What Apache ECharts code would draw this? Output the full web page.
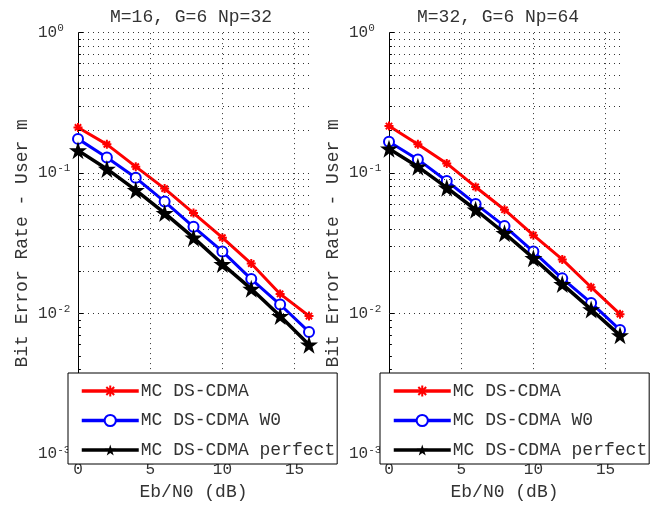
<!DOCTYPE html>
<html><head><meta charset="utf-8">
<script src="https://cdn.jsdelivr.net/npm/echarts@6/dist/echarts.min.js"></script>
<style>html,body{margin:0;padding:0;background:#fff}#c{width:667px;height:506px}</style>
</head><body><div id="c"></div>
<script>
var xs = [0, 2, 4, 6, 8, 10, 12, 14, 16];
var leftRed = [0.211, 0.160, 0.111, 0.0775, 0.0519, 0.0347, 0.0227, 0.0138, 0.0096];
var leftBlue = [0.175, 0.129, 0.0925, 0.0626, 0.0414, 0.0277, 0.0176, 0.0116, 0.0074];
var leftBlack = [0.145, 0.107, 0.0755, 0.0519, 0.0347, 0.0225, 0.0150, 0.0096, 0.0060];
var rightRed = [0.216, 0.160, 0.117, 0.0796, 0.0548, 0.0361, 0.0243, 0.0154, 0.0099];
var rightBlue = [0.167, 0.125, 0.0877, 0.0603, 0.0419, 0.0276, 0.0178, 0.0119, 0.00765];
var rightBlack = [0.149, 0.111, 0.0787, 0.0548, 0.0373, 0.0248, 0.0162, 0.0107, 0.0070];
var seriesNames = ['MC DS-CDMA', 'MC DS-CDMA W0', 'MC DS-CDMA perfect'];
var titles = ['M=16, G=6 Np=32', 'M=32, G=6 Np=64'];
var xTicks = [0, 5, 10, 15];
var yDecades = [0.001, 0.01, 0.1, 1];
var minorMult = [2, 3, 4, 5, 6, 7, 8, 9];
var xLabel = 'Eb/N0 (dB)';
var yLabel = 'Bit Error Rate - User m';

var FONT = 'Liberation Mono';
var TXT = '#333';
var STAR = 'path://M50,0 L61.2,34.5 L97.6,34.5 L68.2,55.9 L79.4,90.5 L50,69.1 L20.6,90.5 L31.8,55.9 L2.4,34.5 L38.8,34.5 Z';
var AST = 'path://M5,0L5,10M0,5L10,5M1.5,1.5L8.5,8.5M1.5,8.5L8.5,1.5';

function pairs(v) { return xs.map(function (x, i) { return [x, v[i]]; }); }

var yGridVals = [];
yDecades.forEach(function (d) { if (d < 1) minorMult.forEach(function (m) { yGridVals.push(d * m); }); });
var yAllGrid = yGridVals.concat(yDecades.slice(1));

function gridSeries(idx) {
  var data = [];
  xTicks.forEach(function (t) { if (t > 0) data.push({ xAxis: t }); });
  yAllGrid.forEach(function (v) { data.push({ yAxis: v }); });
  var ticks = [];
  yGridVals.forEach(function (v) { ticks.push([{ coord: [0, v] }, { coord: [0.2, v] }]); });
  return [{
    type: 'line', xAxisIndex: idx, yAxisIndex: idx, data: [], silent: true, z: 1,
    markLine: {
      silent: true, symbol: ['none', 'none'], label: { show: false }, animation: false,
      lineStyle: { type: [1, 4], color: '#333', width: 1 },
      emphasis: { disabled: true },
      data: data
    }
  }, {
    type: 'line', xAxisIndex: idx, yAxisIndex: idx, data: [], silent: true, z: 1,
    markLine: {
      silent: true, symbol: ['none', 'none'], label: { show: false }, animation: false,
      lineStyle: { type: 'solid', color: '#000', width: 1 },
      emphasis: { disabled: true },
      data: ticks
    }
  }];
}

function dataSeries(idx, red, blue, black) {
  return [
    { name: seriesNames[0], type: 'line', xAxisIndex: idx, yAxisIndex: idx, data: pairs(red), z: 3,
      symbol: AST, symbolSize: 9, lineStyle: { color: '#ff0000', width: 3 },
      itemStyle: { color: '#ff0000', borderColor: '#ff0000', borderWidth: 2 } },
    { name: seriesNames[1], type: 'line', xAxisIndex: idx, yAxisIndex: idx, data: pairs(blue), z: 4,
      symbol: 'emptyCircle', symbolSize: 10, lineStyle: { color: '#0000ff', width: 3 },
      itemStyle: { color: '#0000ff', borderColor: '#0000ff', borderWidth: 2.5 } },
    { name: seriesNames[2], type: 'line', xAxisIndex: idx, yAxisIndex: idx, data: pairs(black), z: 5,
      symbol: STAR, symbolSize: 18, lineStyle: { color: '#000', width: 3.5 },
      itemStyle: { color: '#000' } }
  ];
}

var grids = [
  { left: 78, top: 32.5, width: 231, height: 430 },
  { left: 389, top: 32.5, width: 231, height: 430 }
];

function xAxisCfg(idx) {
  return {
    type: 'value', gridIndex: idx, min: 0, max: 16, interval: 5,
    name: xLabel, nameLocation: 'middle', nameGap: 27,
    nameTextStyle: { fontFamily: FONT, fontSize: 18, color: TXT },
    axisLine: { lineStyle: { color: '#000', width: 1 } },
    axisTick: { inside: true, length: 5, lineStyle: { color: '#000' } },
    minorTick: { show: true, splitNumber: 5, length: 3, lineStyle: { color: '#000' } },
    splitLine: { show: false },
    axisLabel: { fontFamily: FONT, fontSize: 16, color: TXT, margin: 8, showMaxLabel: false,
      formatter: function (v) { return xTicks.indexOf(v) >= 0 ? String(v) : ''; } }
  };
}

function yAxisCfg(idx) {
  return {
    type: 'log', logBase: 10, gridIndex: idx, min: 0.001, max: 1,
    name: yLabel, nameLocation: 'middle', nameGap: 47,
    nameTextStyle: { fontFamily: FONT, fontSize: 18, color: TXT },
    axisLine: { show: true, lineStyle: { color: '#000', width: 1 } },
    axisTick: { inside: true, length: 6, lineStyle: { color: '#000' } },
    splitLine: { show: false },
    axisLabel: {
      align: 'left', margin: 40, color: TXT,
      formatter: function (v) {
        var e = Math.round(Math.log(v) / Math.LN10);
        return '{a|10}{b|' + (e === 0 ? '0' : e) + '}';
      },
      rich: {
        a: { fontFamily: FONT, fontSize: 16, color: TXT },
        b: { fontFamily: FONT, fontSize: 11, color: TXT, padding: [0, 0, 9, 0] }
      }
    }
  };
}

function legendCfg(idx, left) {
  return {
    show: true, orient: 'vertical', left: left, top: 373,
    data: seriesNames, itemWidth: 57, itemHeight: 14, itemGap: 11.5,
    padding: [9, 2, 5, 12],
    backgroundColor: '#fff', borderColor: '#000', borderWidth: 1, borderRadius: 0,
    lineStyle: { width: 3.5 },
    textStyle: { fontFamily: FONT, fontSize: 18, color: TXT, padding: [0, 0, 0, -3] },
    selectedMode: false, z: 10
  };
}

var option = {
  animation: false,
  backgroundColor: '#fff',
  title: [
    { text: titles[0], left: 105, top: 3, textStyle: { fontFamily: FONT, fontSize: 18, fontWeight: 'normal', color: TXT } },
    { text: titles[1], left: 412, top: 3, textStyle: { fontFamily: FONT, fontSize: 18, fontWeight: 'normal', color: TXT } }
  ],
  grid: grids,
  xAxis: [xAxisCfg(0), xAxisCfg(1)],
  yAxis: [yAxisCfg(0), yAxisCfg(1)],
  legend: [legendCfg(0, 68), legendCfg(1, 380)],
  series: [].concat(
    gridSeries(0), gridSeries(1),
    dataSeries(0, leftRed, leftBlue, leftBlack),
    dataSeries(1, rightRed, rightBlue, rightBlack)
  )
};

var chart = echarts.init(document.getElementById('c'), null, { renderer: 'canvas' });
chart.setOption(option);
</script>
</body></html>
